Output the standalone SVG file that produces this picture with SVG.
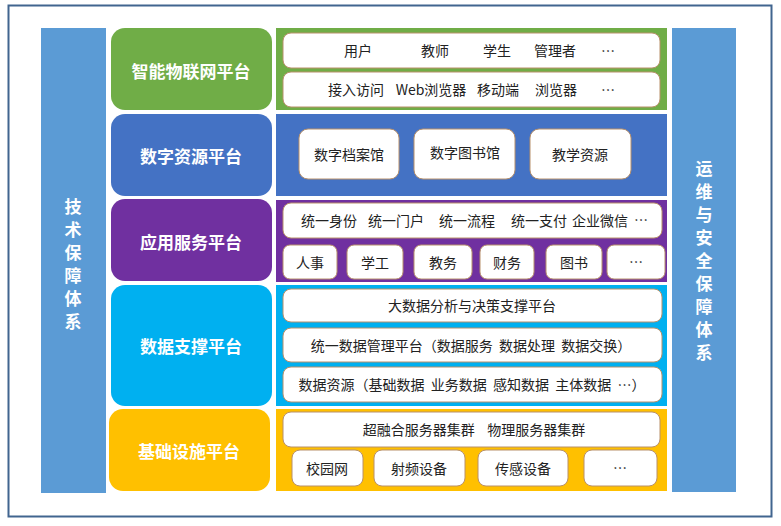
<svg xmlns="http://www.w3.org/2000/svg" width="781" height="526" viewBox="0 0 781 526">
<style>
text{font-family:"Noto Sans CJK SC","Liberation Sans",sans-serif;}
.lbl{font-size:17px;font-weight:bold;fill:#fff;text-anchor:middle;dominant-baseline:central;}
.t{font-size:14px;fill:#222;text-anchor:middle;dominant-baseline:central;}
.box{fill:#fff;stroke:#b8906a;stroke-width:1;}
.side{fill:#5b9bd5;}
.vt{font-size:17px;font-weight:bold;fill:#fff;text-anchor:middle;dominant-baseline:central;}
</style>
<rect x="0" y="0" width="781" height="526" fill="#fff"/>
<rect x="8.5" y="5.5" width="763" height="511" fill="#fff" stroke="#41658f" stroke-width="2"/>

<g id="tech">
<rect class="side" x="41" y="28" width="65" height="465"/>
<text class="vt" x="73" y="205">技</text>
<text class="vt" x="73" y="228">术</text>
<text class="vt" x="73" y="251">保</text>
<text class="vt" x="73" y="274">障</text>
<text class="vt" x="73" y="297">体</text>
<text class="vt" x="73" y="320">系</text>
</g>
<g id="ops">
<rect class="side" x="672" y="28" width="64" height="464"/>
<text class="vt" x="704" y="167">运</text>
<text class="vt" x="704" y="190">维</text>
<text class="vt" x="704" y="213">与</text>
<text class="vt" x="704" y="236">安</text>
<text class="vt" x="704" y="259">全</text>
<text class="vt" x="704" y="282">保</text>
<text class="vt" x="704" y="305">障</text>
<text class="vt" x="704" y="328">体</text>
<text class="vt" x="704" y="351">系</text>
</g>

<g id="iot">
<rect x="111" y="28" width="161" height="82" rx="14" fill="#70ad47"/>
<text class="lbl" x="191" y="70">智能物联网平台</text>
<rect x="276" y="28" width="391" height="82" fill="#70ad47"/>
<rect class="box" x="283" y="33" width="377" height="35" rx="8"/>
<rect class="box" x="283" y="72" width="377" height="35" rx="8"/>
<text class="t" x="358" y="50">用户</text>
<text class="t" x="435" y="50">教师</text>
<text class="t" x="497" y="50">学生</text>
<text class="t" x="555" y="50">管理者</text>
<text class="t" x="608" y="50">…</text>
<text class="t" x="356" y="89">接入访问</text>
<text class="t" x="431" y="89">Web浏览器</text>
<text class="t" x="498" y="89">移动端</text>
<text class="t" x="556" y="89">浏览器</text>
<text class="t" x="608" y="89">…</text>
</g>

<g id="digital">
<rect x="111" y="114" width="161" height="82" rx="14" fill="#4472c4"/>
<text class="lbl" x="191" y="155">数字资源平台</text>
<rect x="276" y="114" width="391" height="82" fill="#4472c4"/>
<rect class="box" x="299" y="129" width="100" height="50" rx="9"/>
<rect class="box" x="414" y="129" width="101" height="50" rx="9"/>
<rect class="box" x="530" y="129" width="101" height="50" rx="9"/>
<text class="t" x="349" y="154">数字档案馆</text>
<text class="t" x="465" y="152">数字图书馆</text>
<text class="t" x="580" y="154">教学资源</text>
</g>

<g id="app">
<rect x="111" y="199" width="161" height="82" rx="14" fill="#7030a0"/>
<text class="lbl" x="191" y="241">应用服务平台</text>
<rect x="276" y="200" width="391" height="82" fill="#7030a0"/>
<rect class="box" x="283" y="203" width="379" height="35" rx="8"/>
<text class="t" x="329" y="220">统一身份</text>
<text class="t" x="396" y="220">统一门户</text>
<text class="t" x="467" y="220">统一流程</text>
<text class="t" x="539" y="220">统一支付</text>
<text class="t" x="600" y="220">企业微信</text>
<text class="t" x="641" y="219">…</text>
<rect class="box" x="283" y="245" width="54" height="34" rx="7"/>
<rect class="box" x="347" y="245" width="56" height="34" rx="7"/>
<rect class="box" x="414" y="245" width="58" height="34" rx="7"/>
<rect class="box" x="480" y="245" width="54" height="34" rx="7"/>
<rect class="box" x="546" y="245" width="56" height="34" rx="7"/>
<rect class="box" x="607" y="245" width="58" height="34" rx="7"/>
<text class="t" x="310" y="262">人事</text>
<text class="t" x="375" y="262">学工</text>
<text class="t" x="443" y="262">教务</text>
<text class="t" x="507" y="262">财务</text>
<text class="t" x="574" y="262">图书</text>
<text class="t" x="636" y="261">…</text>
</g>

<g id="data">
<rect x="111" y="285" width="161" height="121" rx="14" fill="#00b0f0"/>
<text class="lbl" x="191" y="345">数据支撑平台</text>
<rect x="276" y="285" width="391" height="121" fill="#00b0f0"/>
<rect class="box" x="283" y="289" width="379" height="33" rx="8"/>
<rect class="box" x="283" y="328" width="379" height="34" rx="8"/>
<rect class="box" x="283" y="367" width="379" height="35" rx="8"/>
<text class="t" x="472" y="305">大数据分析与决策支撑平台</text>
<text class="t" x="471" y="345" xml:space="preserve">统一数据管理平台（数据服务  数据处理  数据交换）</text>
<text class="t" x="472" y="384" xml:space="preserve">数据资源（基础数据  业务数据  感知数据  主体数据  …）</text>
</g>

<g id="infra">
<rect x="109" y="409" width="161" height="82" rx="14" fill="#ffc000"/>
<text class="lbl" x="189" y="450">基础设施平台</text>
<rect x="276" y="409" width="391" height="82" fill="#ffc000"/>
<rect class="box" x="283" y="412" width="377" height="35" rx="8"/>
<text class="t" x="474" y="429" xml:space="preserve">超融合服务器集群    物理服务器集群</text>
<rect class="box" x="292" y="450" width="71" height="36" rx="8"/>
<rect class="box" x="374" y="450" width="91" height="36" rx="8"/>
<rect class="box" x="478" y="450" width="90" height="36" rx="8"/>
<rect class="box" x="584" y="450" width="73" height="36" rx="8"/>
<text class="t" x="327" y="468">校园网</text>
<text class="t" x="419" y="468">射频设备</text>
<text class="t" x="523" y="468">传感设备</text>
<text class="t" x="620" y="467">…</text>
</g>
<g id="connectors"></g>
</svg>
